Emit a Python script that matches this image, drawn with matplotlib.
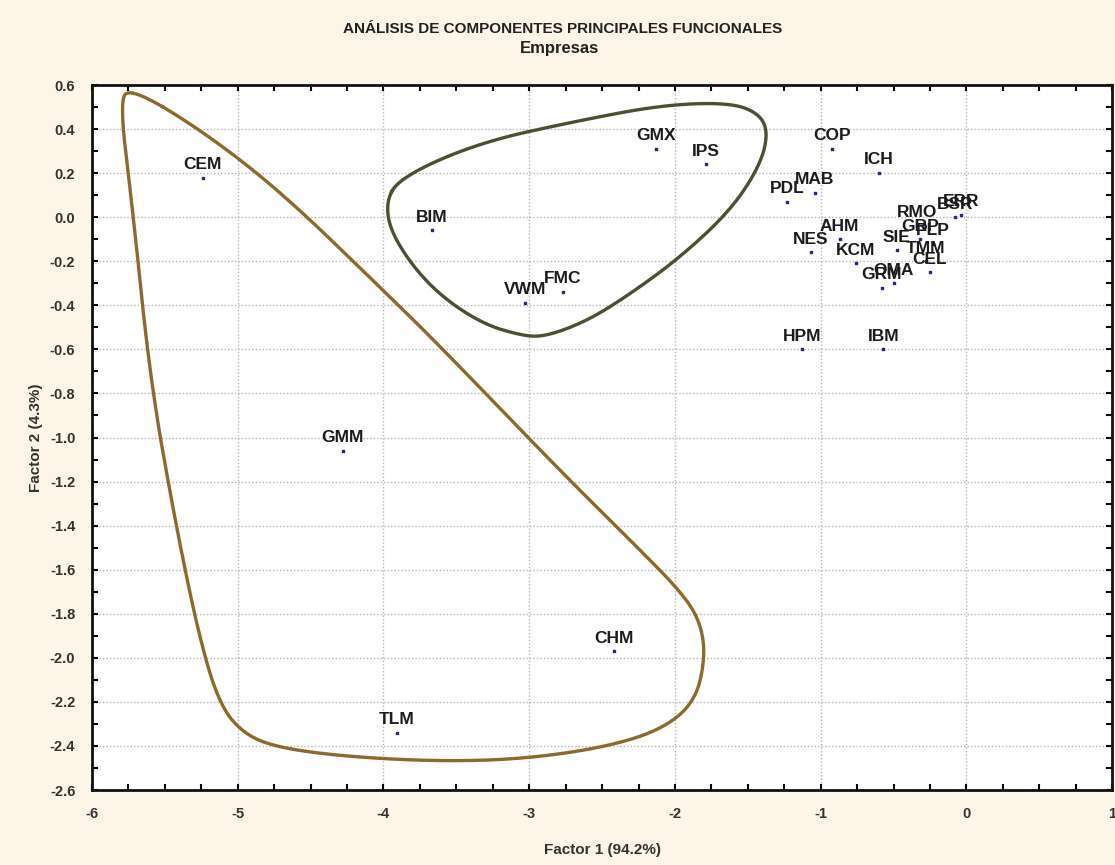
import numpy as np
import matplotlib.pyplot as plt
from matplotlib.ticker import MultipleLocator, FormatStrFormatter

plt.rcParams['font.family'] = ['Liberation Sans', 'DejaVu Sans']
plt.rcParams['axes.unicode_minus'] = False

# Company scores on the first two functional principal components
companies = ['CEM', 'BIM', 'GMX', 'IPS', 'VWM', 'FMC', 'GMM', 'TLM', 'CHM',
             'HPM', 'IBM', 'COP', 'ICH', 'PDL', 'MAB', 'AHM', 'NES', 'KCM',
             'SIE', 'GRM', 'OMA', 'CEL', 'TMM', 'RMO', 'GRP', 'PLP', 'BSR', 'ERR']
factor1 = [-5.24, -3.67, -2.13, -1.79, -3.03, -2.77, -4.28, -3.91, -2.42,
           -1.13, -0.57, -0.92, -0.60, -1.23, -1.04, -0.87, -1.07, -0.76,
           -0.48, -0.58, -0.50, -0.25, -0.28, -0.34, -0.32, -0.23, -0.08, -0.04]
factor2 = [0.18, -0.06, 0.31, 0.24, -0.39, -0.34, -1.06, -2.34, -1.97,
           -0.60, -0.60, 0.31, 0.20, 0.07, 0.11, -0.10, -0.16, -0.21,
           -0.15, -0.32, -0.30, -0.25, -0.20, -0.04, -0.10, -0.12, 0.00, 0.01]

# Hand-drawn group outlines (factor1, factor2)
group_a_x = [-5.74, -5.26, -4.71, -4.02, -3.59, -2.79, -2.24, -1.96, -1.83, -1.79,
             -1.86, -2.10, -2.51, -3.06, -3.61, -4.23, -4.71, -4.95, -5.12, -5.26,
             -5.43, -5.60, -5.72, -5.81]
group_a_y = [0.59, 0.40, 0.12, -0.32, -0.60, -1.15, -1.51, -1.70, -1.83, -1.99,
             -2.20, -2.33, -2.41, -2.46, -2.47, -2.45, -2.41, -2.35, -2.22, -1.92,
             -1.38, -0.74, 0.03, 0.52]
group_b_x = [-3.99, -3.89, -3.34, -2.65, -2.08, -1.62, -1.42, -1.36, -1.42, -1.62,
             -1.96, -2.31, -2.60, -2.88, -3.04, -3.34, -3.68, -3.93]
group_b_y = [0.06, 0.18, 0.34, 0.44, 0.51, 0.52, 0.47, 0.38, 0.23, 0.03,
             -0.18, -0.35, -0.47, -0.54, -0.54, -0.48, -0.32, -0.10]


def smooth_closed(xs, ys, n_iter=4):
    # Chaikin corner cutting on a closed polygon
    pts = np.column_stack([xs, ys]).astype(float)
    for _ in range(n_iter):
        nxt = np.roll(pts, -1, axis=0)
        q = 0.75 * pts + 0.25 * nxt
        r = 0.25 * pts + 0.75 * nxt
        pts = np.empty((2 * len(q), 2))
        pts[0::2] = q
        pts[1::2] = r
    pts = np.vstack([pts, pts[:1]])
    return pts[:, 0], pts[:, 1]


fig = plt.figure(figsize=(11.15, 8.65), dpi=100, facecolor='#fdf5e8')
ax = fig.add_axes([0.0825, 0.0867, 0.915, 0.815])
ax.set_facecolor('white')

ax.set_xlim(-6, 1)
ax.set_ylim(-2.6, 0.6)
ax.xaxis.set_major_locator(MultipleLocator(1))
ax.xaxis.set_minor_locator(MultipleLocator(0.25))
ax.yaxis.set_major_locator(MultipleLocator(0.2))
ax.yaxis.set_minor_locator(MultipleLocator(0.1))
ax.xaxis.set_major_formatter(FormatStrFormatter('%d'))
ax.yaxis.set_major_formatter(FormatStrFormatter('%.1f'))
ax.tick_params(which='both', direction='in', top=True, right=True,
               length=4, width=1.5, colors='black')
ax.tick_params(which='major', labelsize=10.5, labelcolor='#333333', pad=12)
for lab in ax.get_xticklabels() + ax.get_yticklabels():
    lab.set_fontweight('bold')
for sp in ax.spines.values():
    sp.set_linewidth(2)
    sp.set_color('#111111')

ax.grid(True, which='major', linestyle=(0, (1, 1.5)), color='#b5b5b5', linewidth=1)
ax.set_axisbelow(True)

# Group outlines
bx, by = smooth_closed(group_a_x, group_a_y)
ax.plot(bx, by, color='#8c6a2b', lw=2.4, zorder=2)
gx, gy = smooth_closed(group_b_x, group_b_y)
ax.plot(gx, gy, color='#4a5132', lw=2.4, zorder=2)

# Points with labels
ax.scatter(factor1, factor2, marker='s', s=3, color='#1f2a8a', zorder=3)
for name, x, y in zip(companies, factor1, factor2):
    ax.annotate(name, (x, y), xytext=(0, 9.5), textcoords='offset points',
                ha='center', va='center', fontsize=12.5, fontweight='bold',
                color='#1c1c1c', zorder=4)

fig.text(0.505, 0.967, 'ANÁLISIS DE COMPONENTES PRINCIPALES FUNCIONALES',
         ha='center', va='center', fontsize=11, fontweight='bold', color='#222222')
fig.text(0.502, 0.944, 'Empresas', ha='center', va='center',
         fontsize=12, fontweight='bold', color='#222222')
ax.set_xlabel('Factor 1 (94.2%)', fontsize=11, fontweight='bold', color='#333333',
              labelpad=16)
ax.set_ylabel('Factor 2 (4.3%)', fontsize=11, fontweight='bold', color='#333333',
              labelpad=5)

fig.savefig('out.png', dpi=100, facecolor=fig.get_facecolor())
